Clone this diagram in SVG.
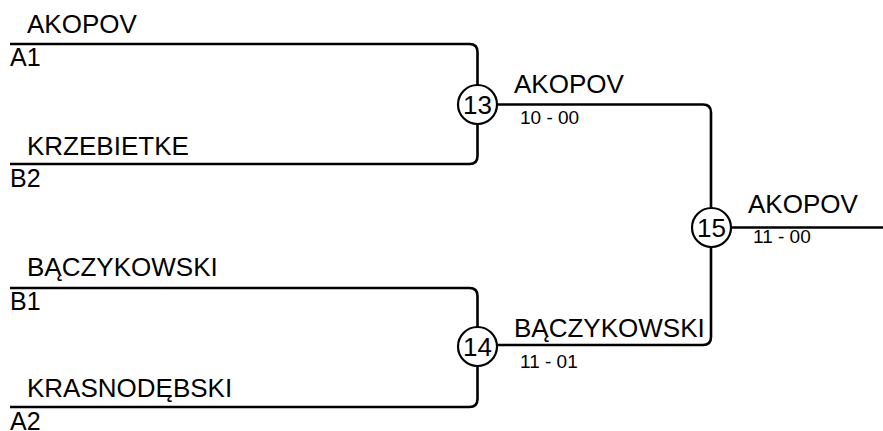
<svg xmlns="http://www.w3.org/2000/svg" width="883" height="431" viewBox="0 0 883 431">
<style>
.ln{fill:none;stroke:#000;stroke-width:2.6}
.nm{font-family:"Liberation Sans",Arial,sans-serif;font-size:26px;fill:#000}
.sd{font-family:"Liberation Sans",Arial,sans-serif;font-size:25px;fill:#000}
.sc{font-family:"Liberation Sans",Arial,sans-serif;font-size:19px;fill:#000}
.cn{font-family:"Liberation Sans",Arial,sans-serif;font-size:26px;fill:#000;text-anchor:middle}
.ci{fill:#fff;stroke:#000;stroke-width:2.2}
</style>
<rect width="883" height="431" fill="#fff"/>
<g id="connectors">
<path class="ln" d="M10 44 H469.5 Q477.5 44 477.5 52 V156 Q477.5 164 469.5 164 H10"/>
<path class="ln" d="M10 288 H469.5 Q477.5 288 477.5 296 V399 Q477.5 407 469.5 407 H10"/>
<path class="ln" d="M478 104.5 H703 Q711 104.5 711 112.5 V337 Q711 345 703 345 H478"/>
<path class="ln" d="M711.5 227.5 H883"/>
</g>
<g id="entry-A1"><text class="nm" x="27" y="33">AKOPOV</text><text class="sd" x="10" y="66">A1</text></g>
<g id="entry-B2"><text class="nm" x="27" y="155">KRZEBIETKE</text><text class="sd" x="10" y="187">B2</text></g>
<g id="entry-B1"><text class="nm" x="27" y="276">BĄCZYKOWSKI</text><text class="sd" x="10" y="310">B1</text></g>
<g id="entry-A2"><text class="nm" x="27" y="397">KRASNODĘBSKI</text><text class="sd" x="10" y="430">A2</text></g>
<g id="match-13"><circle class="ci" cx="477.5" cy="104.5" r="19.5"/><text class="cn" x="477.5" y="113.5">13</text><text class="nm" x="514" y="93">AKOPOV</text><text class="sc" x="520" y="124">10 - 00</text></g>
<g id="match-14"><circle class="ci" cx="477.5" cy="346.5" r="19.5"/><text class="cn" x="477.5" y="355.5">14</text><text class="nm" x="514" y="337">BĄCZYKOWSKI</text><text class="sc" x="520" y="368">11 - 01</text></g>
<g id="match-15"><circle class="ci" cx="711.5" cy="227.5" r="19.5"/><text class="cn" x="711.5" y="236.5">15</text><text class="nm" x="748" y="213">AKOPOV</text><text class="sc" x="753" y="243">11 - 00</text></g>
</svg>
